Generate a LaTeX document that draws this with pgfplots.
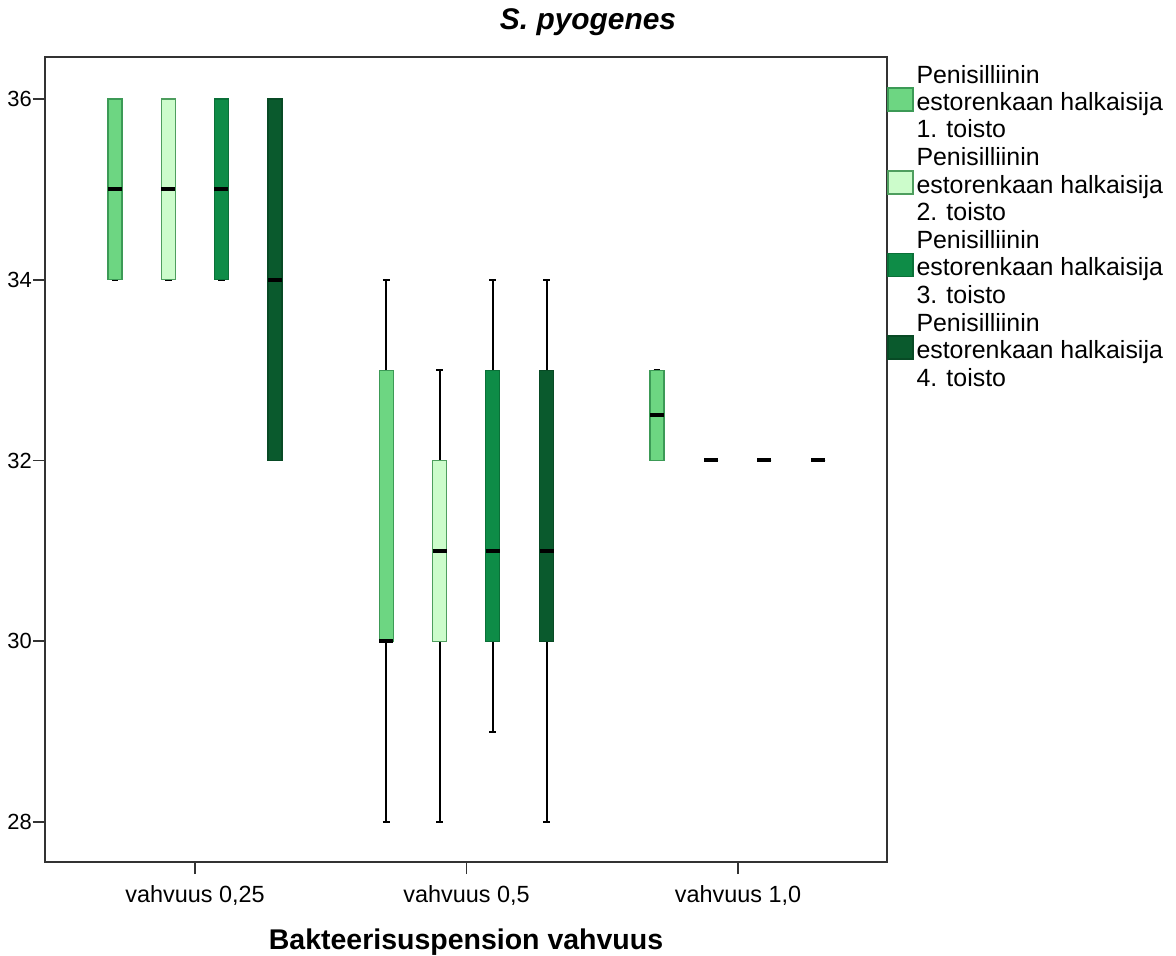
\documentclass[border=0pt]{standalone}
\usepackage{pgfplots}
\pgfplotsset{compat=1.18}
\usepgfplotslibrary{statistics}
\usepackage{fontspec}
\setmainfont{Liberation Sans}
\definecolor{cA}{HTML}{6DD682}
\definecolor{cAd}{HTML}{3C9A56}
\definecolor{cB}{HTML}{CCFCCB}
\definecolor{cBd}{HTML}{4E9E5E}
\definecolor{cC}{HTML}{0E8C47}
\definecolor{cCd}{HTML}{0A7038}
\definecolor{cD}{HTML}{0A5A2D}
\definecolor{cDd}{HTML}{084A25}
\definecolor{axc}{HTML}{333333}
\newcommand{\lent}[1]{\begin{tabular}{@{\hspace{3bp}}l@{}}Penisilliinin\\estorenkaan halkaisija\\#1. toisto\end{tabular}}
\begin{document}
\begin{tikzpicture}
\begin{axis}[
  at={(0,0)}, anchor=south west,
  scale only axis, width=842bp, height=805bp,
  xmin=-0.5525, xmax=2.549, ymin=27.557, ymax=36.465,
  axis line style={draw=axc, line width=1.5bp},
  tick style={draw=axc, line width=1.5bp},
  tick align=outside, major tick length=12bp,
  xtick={0,1,2},
  xticklabels={{vahvuus 0,25},{vahvuus 0,5},{vahvuus 1,0}},
  ytick={28,30,32,34,36},
  xtick pos=left, ytick pos=left,
  xticklabel style={yshift=-8bp, font=\fontsize{23.5}{26}\selectfont},
  yticklabel style={inner sep=1bp, font=\fontsize{22}{26}\selectfont},
  /pgf/number format/assume math mode=true,
  title={\textbf{\textit{S. pyogenes}}},
  title style={at={(axis description cs:0.6449,1)}, anchor=base, yshift=22bp, font=\fontsize{30}{34}\selectfont},
  xlabel={\textbf{Bakteerisuspension vahvuus}},
  xlabel style={at={(axis description cs:0.5,0)}, anchor=base, yshift=-87.5bp, font=\fontsize{28.6}{32}\selectfont},
  legend style={draw=none, fill=none, at={(axis description cs:1,1)}, anchor=north west,
    inner sep=0pt, outer sep=0pt, row sep=0.5bp, column sep=0pt, yshift=-7bp,
    font=\fontsize{25}{27.5}\selectfont, cells={anchor=west}, nodes={inner sep=0pt, text depth=}},
  legend cell align=left,
  boxplot/draw direction=y,
  boxplot/box extend=0.0516,
  boxplot/whisker extend=0.025,
  boxplot/every whisker/.style={draw=black, line width=2bp},
  boxplot/every median/.style={draw=black, line width=4bp},
]
\addlegendimage{legend image code/.code={\draw[fill=cA, draw=cAd, line width=1.5bp] (0bp,-6bp) rectangle (25bp,17bp);}}
\addlegendentry{\lent{1}}
\addlegendimage{legend image code/.code={\draw[fill=cB, draw=cBd, line width=1.5bp] (0bp,-6bp) rectangle (25bp,17bp);}}
\addlegendentry{\lent{2}}
\addlegendimage{legend image code/.code={\draw[fill=cC, draw=cCd, line width=1.5bp] (0bp,-6bp) rectangle (25bp,17bp);}}
\addlegendentry{\lent{3}}
\addlegendimage{legend image code/.code={\draw[fill=cD, draw=cDd, line width=1.5bp] (0bp,-6bp) rectangle (25bp,17bp);}}
\addlegendentry{\lent{4}}
% vahvuus 0,25
\addplot[forget plot, fill=cA, draw=cAd, line width=1.2bp, boxplot prepared={draw position=-0.295, lower whisker=34, lower quartile=34, median=35, upper quartile=36, upper whisker=36}] coordinates {};
\addplot[forget plot, fill=cB, draw=cBd, line width=1.2bp, boxplot prepared={draw position=-0.0985, lower whisker=34, lower quartile=34, median=35, upper quartile=36, upper whisker=36}] coordinates {};
\addplot[forget plot, fill=cC, draw=cCd, line width=1.2bp, boxplot prepared={draw position=0.0965, lower whisker=34, lower quartile=34, median=35, upper quartile=36, upper whisker=36}] coordinates {};
\addplot[forget plot, fill=cD, draw=cDd, line width=1.2bp, boxplot prepared={draw position=0.295, lower whisker=32, lower quartile=32, median=34, upper quartile=36, upper whisker=36}] coordinates {};
% vahvuus 0,5
\addplot[forget plot, fill=cA, draw=cAd, line width=1.2bp, boxplot prepared={draw position=0.705, lower whisker=28, lower quartile=30, median=30, upper quartile=33, upper whisker=34}] coordinates {};
\addplot[forget plot, fill=cB, draw=cBd, line width=1.2bp, boxplot prepared={draw position=0.9015, lower whisker=28, lower quartile=30, median=31, upper quartile=32, upper whisker=33}] coordinates {};
\addplot[forget plot, fill=cC, draw=cCd, line width=1.2bp, boxplot prepared={draw position=1.0965, lower whisker=29, lower quartile=30, median=31, upper quartile=33, upper whisker=34}] coordinates {};
\addplot[forget plot, fill=cD, draw=cDd, line width=1.2bp, boxplot prepared={draw position=1.295, lower whisker=28, lower quartile=30, median=31, upper quartile=33, upper whisker=34}] coordinates {};
% vahvuus 1,0
\addplot[forget plot, fill=cA, draw=cAd, line width=1.2bp, boxplot prepared={draw position=1.702, lower whisker=32, lower quartile=32, median=32.5, upper quartile=33, upper whisker=33}] coordinates {};
\addplot[forget plot, fill=cB, draw=cBd, line width=1.2bp, boxplot prepared={draw position=1.9015, lower whisker=32, lower quartile=32, median=32, upper quartile=32, upper whisker=32}] coordinates {};
\addplot[forget plot, fill=cC, draw=cCd, line width=1.2bp, boxplot prepared={draw position=2.0965, lower whisker=32, lower quartile=32, median=32, upper quartile=32, upper whisker=32}] coordinates {};
\addplot[forget plot, fill=cD, draw=cDd, line width=1.2bp, boxplot prepared={draw position=2.295, lower whisker=32, lower quartile=32, median=32, upper quartile=32, upper whisker=32}] coordinates {};
\end{axis}
\pgfresetboundingbox
\path[use as bounding box] (-45bp,-94bp) rectangle (1131bp,862bp);
\end{tikzpicture}
\end{document}
